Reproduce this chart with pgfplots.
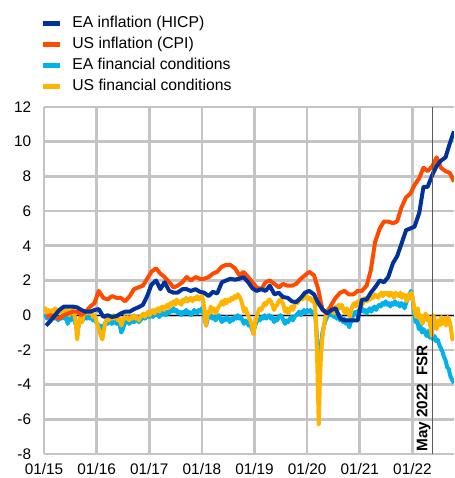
\documentclass[border=0pt]{standalone}
\usepackage{fontspec}
\setmainfont{Liberation Sans}
\usepackage{pgfplots}
\pgfplotsset{compat=1.18}
\definecolor{ecbdark}{HTML}{003299}
\definecolor{ecborange}{HTML}{FF4B00}
\definecolor{ecblight}{HTML}{00B1EA}
\definecolor{ecbyellow}{HTML}{FFB400}
\definecolor{gridgray}{HTML}{C4C4C4}
\definecolor{fsrline}{HTML}{595959}
\begin{document}
\fontsize{11.5}{13.8}\selectfont
\begin{tikzpicture}
\useasboundingbox (-33pt,-18pt) rectangle (307.5pt,340.5pt);
\begin{axis}[
  at={(0pt,0pt)}, anchor=south west,
  scale only axis, width=307.5pt, height=260.25pt,
  xmin=2015, xmax=2022.79, ymin=-8, ymax=12,
  xtick={2015,2016,2017,2018,2019,2020,2021,2022},
  xticklabels={01/15,01/16,01/17,01/18,01/19,01/20,01/21,01/22},
  ytick={-8,-6,-4,-2,0,2,4,6,8,10,12},
  major tick length=0pt,
  xmajorgrids=true, ymajorgrids=true,
  major grid style={draw=gridgray, line width=2pt},
  axis x line*=bottom, axis y line*=left,
  axis line style={draw=gridgray, line width=2pt, -},
  tick label style={font=\fontsize{11.5}{13.8}\selectfont, inner sep=0pt, /pgf/number format/assume math mode=true},
  xticklabel shift=6.5pt, yticklabel shift=9.5pt,
  legend image code/.code={\draw[#1, line width=3.5pt] (0pt,0pt) -- (12.5pt,0pt);},
  legend style={at={(axis description cs:0,1)}, anchor=west, xshift=-2.25pt, yshift=38.9pt,
    draw=none, fill=none, inner sep=0pt, outer sep=0pt, row sep=4.8pt, column sep=7.5pt,
    nodes={inner sep=0pt, text height=8.5pt, text depth=2.5pt},
    font=\fontsize{11.8}{14}\selectfont},
  legend cell align=left,
  line join=round,
]
\addlegendimage{ecbdark}\addlegendentry{EA inflation (HICP)}
\addlegendimage{ecborange}\addlegendentry{US inflation (CPI)}
\addlegendimage{ecblight}\addlegendentry{EA financial conditions}
\addlegendimage{ecbyellow}\addlegendentry{US financial conditions}

\draw[black, line width=0.8pt] (axis cs:2015,0) -- (axis cs:2022.79,0);

% EA financial conditions
\addplot[ecblight, line width=3pt, forget plot] coordinates {
(2015.00,-0.1)(2015.03,0.0)(2015.06,-0.2)(2015.09,-0.1)(2015.12,-0.3)(2015.15,-0.1)(2015.18,0.0)(2015.21,-0.2)(2015.24,-0.1)(2015.27,-0.3)
(2015.30,-0.1)(2015.33,-0.2)(2015.36,0.0)(2015.39,-0.2)(2015.42,-0.1)(2015.45,-0.5)(2015.48,-0.2)(2015.51,-0.3)(2015.54,-0.1)(2015.57,-0.2)
(2015.60,-0.5)(2015.63,-0.9)(2015.66,-0.6)(2015.69,-0.3)(2015.72,-0.4)(2015.75,-0.2)(2015.78,-0.1)(2015.81,-0.2)(2015.84,0.0)(2015.87,-0.2)
(2015.90,-0.1)(2015.93,-0.3)(2015.96,-0.2)(2015.99,-0.4)(2016.02,-0.5)(2016.05,-0.7)(2016.08,-0.6)(2016.11,-0.8)(2016.14,-0.6)(2016.17,-0.4)
(2016.20,-0.5)(2016.23,-0.4)(2016.26,-0.3)(2016.29,-0.5)(2016.32,-0.4)(2016.35,-0.3)(2016.38,-0.5)(2016.41,-0.4)(2016.44,-0.6)(2016.47,-1.0)
(2016.50,-0.8)(2016.53,-0.5)(2016.56,-0.4)(2016.59,-0.3)(2016.62,-0.5)(2016.65,-0.4)(2016.68,-0.3)(2016.71,-0.4)(2016.74,-0.3)(2016.77,-0.2)
(2016.80,-0.4)(2016.83,-0.3)(2016.86,-0.2)(2016.89,-0.1)(2016.92,-0.2)(2016.95,-0.1)(2016.98,0.0)(2017.01,-0.1)(2017.04,0.0)(2017.07,-0.1)
(2017.10,0.1)(2017.13,0.0)(2017.16,0.1)(2017.19,-0.1)(2017.22,0.0)(2017.25,0.2)(2017.28,0.1)(2017.31,0.0)(2017.34,0.2)(2017.37,0.1)
(2017.40,0.3)(2017.43,0.2)(2017.46,0.4)(2017.49,0.2)(2017.52,0.3)(2017.55,0.1)(2017.58,0.2)(2017.61,0.0)(2017.64,0.2)(2017.67,0.1)
(2017.70,0.3)(2017.73,0.1)(2017.76,0.2)(2017.79,0.0)(2017.82,0.1)(2017.85,0.3)(2017.88,0.2)(2017.91,0.1)(2017.94,0.3)(2017.97,0.2)
(2018.00,0.4)(2018.03,0.2)(2018.06,-0.3)(2018.08,-0.6)(2018.11,-0.2)(2018.14,-0.1)(2018.17,0.0)(2018.20,-0.2)(2018.23,-0.1)(2018.26,-0.3)
(2018.29,-0.1)(2018.32,0.0)(2018.35,-0.2)(2018.38,-0.4)(2018.41,-0.2)(2018.44,-0.3)(2018.47,-0.1)(2018.50,-0.2)(2018.53,-0.4)(2018.56,-0.2)
(2018.59,-0.3)(2018.62,-0.1)(2018.65,-0.2)(2018.68,0.0)(2018.71,-0.2)(2018.74,-0.1)(2018.77,-0.3)(2018.80,-0.5)(2018.83,-0.3)(2018.86,-0.4)
(2018.89,-0.6)(2018.92,-0.5)(2018.95,-0.8)(2018.98,-1.0)(2019.01,-0.6)(2019.04,-0.4)(2019.07,-0.2)(2019.10,-0.3)(2019.13,-0.1)(2019.16,-0.2)
(2019.19,0.0)(2019.22,-0.2)(2019.25,-0.1)(2019.28,0.0)(2019.31,-0.2)(2019.34,-0.1)(2019.37,-0.4)(2019.40,-0.2)(2019.43,-0.3)(2019.46,-0.1)
(2019.49,0.0)(2019.52,-0.1)(2019.55,-0.3)(2019.58,-0.5)(2019.61,-0.3)(2019.64,-0.4)(2019.67,-0.2)(2019.70,-0.1)(2019.73,-0.3)(2019.76,-0.1)
(2019.79,0.0)(2019.82,0.1)(2019.85,0.2)(2019.88,0.0)(2019.91,0.2)(2019.94,0.3)(2019.97,0.1)(2020.00,0.3)(2020.03,0.2)(2020.06,0.3)
(2020.09,0.1)(2020.12,0.2)(2020.15,0.1)(2020.17,-0.6)(2020.19,-1.5)(2020.21,-2.6)(2020.23,-3.2)(2020.25,-2.4)(2020.27,-1.6)(2020.29,-1.0)
(2020.32,-0.6)(2020.35,-0.3)(2020.38,-0.1)(2020.41,0.1)(2020.44,0.0)(2020.47,0.2)(2020.50,-0.1)(2020.53,0.1)(2020.56,-0.2)(2020.59,0.0)
(2020.62,-0.3)(2020.65,-0.1)(2020.68,-0.4)(2020.71,-0.2)(2020.74,-0.5)(2020.77,-0.3)(2020.80,-0.7)(2020.83,-0.4)(2020.86,-0.1)(2020.89,0.1)
(2020.92,0.2)(2020.95,0.0)(2020.98,0.3)(2021.01,0.2)(2021.04,0.4)(2021.07,0.2)(2021.10,0.3)(2021.13,0.1)(2021.16,0.3)(2021.19,0.4)
(2021.22,0.2)(2021.25,0.4)(2021.28,0.5)(2021.31,0.3)(2021.34,0.5)(2021.37,0.6)(2021.40,0.5)(2021.43,0.7)(2021.46,0.6)(2021.49,0.8)
(2021.52,0.6)(2021.55,0.7)(2021.58,0.5)(2021.61,0.7)(2021.64,0.6)(2021.67,0.8)(2021.70,0.6)(2021.73,0.7)(2021.76,0.5)(2021.79,0.7)
(2021.82,0.6)(2021.85,0.4)(2021.88,0.7)(2021.91,0.9)(2021.94,1.1)(2021.97,1.4)(2022.00,1.0)(2022.03,0.2)(2022.06,-0.4)(2022.09,-0.2)
(2022.12,-0.8)(2022.15,-0.6)(2022.18,-1.0)(2022.21,-0.8)(2022.24,-1.0)(2022.27,-1.2)(2022.30,-0.9)(2022.33,-1.3)(2022.36,-1.1)(2022.39,-1.4)
(2022.42,-1.2)(2022.45,-1.5)(2022.48,-1.4)(2022.51,-1.7)(2022.54,-1.9)(2022.57,-2.1)(2022.60,-2.4)(2022.63,-2.6)(2022.66,-3.0)(2022.69,-3.1)
(2022.72,-3.5)(2022.75,-3.7)(2022.79,-3.9)
};

% US financial conditions
\addplot[ecbyellow, line width=3pt, forget plot] coordinates {
(2015.00,0.2)(2015.03,0.4)(2015.06,0.1)(2015.09,0.3)(2015.12,0.0)(2015.15,0.3)(2015.18,0.1)(2015.21,0.4)(2015.24,0.2)(2015.27,0.3)
(2015.30,0.1)(2015.33,0.4)(2015.36,0.2)(2015.39,0.3)(2015.42,0.1)(2015.45,0.3)(2015.48,0.0)(2015.51,0.2)(2015.54,0.3)(2015.57,0.1)
(2015.60,-0.3)(2015.63,-1.4)(2015.66,-0.6)(2015.69,-0.1)(2015.72,-0.4)(2015.75,0.0)(2015.78,0.2)(2015.81,0.1)(2015.84,0.3)(2015.87,0.1)
(2015.90,0.2)(2015.93,-0.1)(2015.96,0.0)(2015.99,-0.3)(2016.02,-0.6)(2016.05,-0.9)(2016.08,-1.2)(2016.11,-1.4)(2016.14,-0.8)(2016.17,-0.4)
(2016.20,-0.2)(2016.23,-0.3)(2016.26,-0.1)(2016.29,-0.2)(2016.32,0.0)(2016.35,-0.2)(2016.38,-0.1)(2016.41,-0.3)(2016.44,-0.2)(2016.47,-0.6)
(2016.50,-0.3)(2016.53,-0.1)(2016.56,-0.2)(2016.59,-0.1)(2016.62,-0.3)(2016.65,-0.1)(2016.68,-0.2)(2016.71,0.0)(2016.74,-0.2)(2016.77,-0.1)
(2016.80,-0.3)(2016.83,-0.1)(2016.86,0.0)(2016.89,0.1)(2016.92,-0.1)(2016.95,0.1)(2016.98,0.2)(2017.01,0.0)(2017.04,0.2)(2017.07,0.3)
(2017.10,0.1)(2017.13,0.3)(2017.16,0.4)(2017.19,0.2)(2017.22,0.4)(2017.25,0.5)(2017.28,0.3)(2017.31,0.5)(2017.34,0.6)(2017.37,0.4)
(2017.40,0.7)(2017.43,0.6)(2017.46,0.8)(2017.49,0.6)(2017.52,0.9)(2017.55,0.7)(2017.58,0.8)(2017.61,0.6)(2017.64,0.9)(2017.67,0.8)
(2017.70,1.0)(2017.73,0.8)(2017.76,0.9)(2017.79,1.0)(2017.82,0.8)(2017.85,1.0)(2017.88,0.9)(2017.91,1.1)(2017.94,0.9)(2017.97,1.0)
(2018.00,1.1)(2018.03,0.8)(2018.06,-0.2)(2018.08,-0.6)(2018.11,0.2)(2018.14,0.1)(2018.17,0.5)(2018.20,0.2)(2018.23,0.4)(2018.26,0.1)
(2018.29,0.3)(2018.32,0.5)(2018.35,0.6)(2018.38,0.8)(2018.41,0.6)(2018.44,0.9)(2018.47,0.7)(2018.50,0.9)(2018.53,0.8)(2018.56,1.0)
(2018.59,0.9)(2018.62,1.1)(2018.65,1.0)(2018.68,1.2)(2018.71,1.1)(2018.74,0.9)(2018.77,0.6)(2018.80,0.2)(2018.83,0.4)(2018.86,0.1)
(2018.89,-0.1)(2018.92,-0.3)(2018.95,-0.6)(2018.98,-1.1)(2019.01,-0.5)(2019.04,-0.1)(2019.07,0.2)(2019.10,0.4)(2019.13,0.3)(2019.16,0.5)
(2019.19,0.7)(2019.22,0.6)(2019.25,0.8)(2019.28,0.9)(2019.31,0.8)(2019.34,0.6)(2019.37,0.3)(2019.40,0.5)(2019.43,0.6)(2019.46,0.8)
(2019.49,0.9)(2019.52,0.8)(2019.55,0.6)(2019.58,0.2)(2019.61,0.4)(2019.64,0.1)(2019.67,0.3)(2019.70,0.5)(2019.73,0.3)(2019.76,0.6)
(2019.79,0.8)(2019.82,0.7)(2019.85,0.9)(2019.88,1.0)(2019.91,0.9)(2019.94,1.1)(2019.97,1.0)(2020.00,1.1)(2020.03,0.9)(2020.06,1.0)
(2020.09,0.8)(2020.12,0.9)(2020.15,0.6)(2020.17,-0.5)(2020.19,-2.5)(2020.21,-5.0)(2020.22,-6.3)(2020.24,-4.0)(2020.26,-2.5)(2020.28,-1.6)
(2020.30,-1.0)(2020.33,-0.4)(2020.36,0.1)(2020.39,0.3)(2020.42,0.4)(2020.45,0.2)(2020.48,0.4)(2020.51,0.1)(2020.54,0.5)(2020.57,0.3)
(2020.60,0.6)(2020.63,0.4)(2020.66,0.6)(2020.69,0.3)(2020.72,0.1)(2020.75,0.4)(2020.78,0.2)(2020.81,-0.1)(2020.84,0.3)(2020.87,0.6)
(2020.90,0.7)(2020.93,0.5)(2020.96,0.8)(2020.99,0.7)(2021.02,0.9)(2021.05,0.6)(2021.08,0.9)(2021.11,1.0)(2021.14,0.8)(2021.17,1.0)
(2021.20,0.9)(2021.23,1.1)(2021.26,1.0)(2021.29,1.2)(2021.32,1.1)(2021.35,1.0)(2021.38,1.2)(2021.41,1.3)(2021.44,1.1)(2021.47,1.3)
(2021.50,1.2)(2021.53,1.3)(2021.56,1.1)(2021.59,1.3)(2021.62,1.2)(2021.65,1.0)(2021.68,1.3)(2021.71,1.2)(2021.74,1.1)(2021.77,1.3)
(2021.80,1.0)(2021.83,1.2)(2021.86,1.1)(2021.89,0.8)(2021.92,1.2)(2021.95,1.0)(2021.98,1.3)(2022.01,0.9)(2022.04,0.3)(2022.07,-0.1)
(2022.10,0.4)(2022.13,-0.2)(2022.16,0.0)(2022.19,-0.5)(2022.22,-0.2)(2022.25,0.1)(2022.28,-0.3)(2022.31,-0.1)(2022.34,-0.6)(2022.37,-1.2)
(2022.40,0.0)(2022.43,-0.4)(2022.46,-0.8)(2022.49,-0.3)(2022.52,-0.6)(2022.55,-0.1)(2022.58,-0.5)(2022.61,-0.2)(2022.64,-0.6)(2022.67,-0.1)
(2022.70,-0.3)(2022.73,-0.7)(2022.76,-1.4)(2022.79,-1.3)
};

% US inflation (CPI), monthly, mid-month
\addplot[ecborange, line width=3pt, forget plot] coordinates {
(2015.04,-0.1)(2015.13,0.0)(2015.21,-0.1)(2015.29,-0.2)(2015.38,0.0)(2015.46,0.1)(2015.54,0.2)(2015.63,0.2)(2015.71,0.0)(2015.79,0.2)(2015.88,0.5)(2015.96,0.7)
(2016.04,1.4)(2016.13,1.0)(2016.21,0.9)(2016.29,1.1)(2016.38,1.0)(2016.46,1.0)(2016.54,0.8)(2016.63,1.1)(2016.71,1.5)(2016.79,1.6)(2016.88,1.7)(2016.96,2.1)
(2017.04,2.5)(2017.13,2.7)(2017.21,2.4)(2017.29,2.2)(2017.38,1.9)(2017.46,1.6)(2017.54,1.7)(2017.63,1.9)(2017.71,2.2)(2017.79,2.0)(2017.88,2.2)(2017.96,2.1)
(2018.04,2.1)(2018.13,2.2)(2018.21,2.4)(2018.29,2.5)(2018.38,2.8)(2018.46,2.9)(2018.54,2.9)(2018.63,2.7)(2018.71,2.3)(2018.79,2.5)(2018.88,2.2)(2018.96,1.9)
(2019.04,1.6)(2019.13,1.5)(2019.21,1.9)(2019.29,2.0)(2019.38,1.8)(2019.46,1.6)(2019.54,1.8)(2019.63,1.7)(2019.71,1.7)(2019.79,1.8)(2019.88,2.1)(2019.96,2.3)
(2020.04,2.5)(2020.13,2.3)(2020.21,1.5)(2020.29,0.3)(2020.38,0.1)(2020.46,0.6)(2020.54,1.0)(2020.63,1.3)(2020.71,1.4)(2020.79,1.2)(2020.88,1.2)(2020.96,1.4)
(2021.04,1.4)(2021.13,1.7)(2021.21,2.6)(2021.29,4.2)(2021.38,5.0)(2021.46,5.4)(2021.54,5.4)(2021.63,5.3)(2021.71,5.4)(2021.79,6.2)(2021.88,6.8)(2021.96,7.0)
(2022.04,7.5)(2022.13,7.9)(2022.21,8.5)(2022.29,8.3)(2022.38,8.6)(2022.46,9.1)(2022.54,8.5)(2022.63,8.3)(2022.71,8.2)(2022.79,7.7)
};

% EA inflation (HICP), monthly, mid-month
\addplot[ecbdark, line width=3pt, forget plot] coordinates {
(2015.04,-0.6)(2015.13,-0.3)(2015.21,0.0)(2015.29,0.3)(2015.38,0.5)(2015.46,0.5)(2015.54,0.5)(2015.63,0.45)(2015.71,0.3)(2015.79,0.2)(2015.88,0.2)(2015.96,0.3)
(2016.04,0.35)(2016.13,-0.1)(2016.21,0.0)(2016.29,-0.1)(2016.38,-0.05)(2016.46,0.1)(2016.54,0.2)(2016.63,0.2)(2016.71,0.35)(2016.79,0.45)(2016.88,0.6)(2016.96,1.1)
(2017.04,1.75)(2017.13,2.0)(2017.21,1.5)(2017.29,1.9)(2017.38,1.4)(2017.46,1.3)(2017.54,1.3)(2017.63,1.5)(2017.71,1.5)(2017.79,1.4)(2017.88,1.5)(2017.96,1.35)
(2018.04,1.3)(2018.13,1.1)(2018.21,1.35)(2018.29,1.25)(2018.38,1.9)(2018.46,2.0)(2018.54,2.1)(2018.63,2.05)(2018.71,2.1)(2018.79,2.2)(2018.88,1.9)(2018.96,1.55)
(2019.04,1.4)(2019.13,1.5)(2019.21,1.4)(2019.29,1.7)(2019.38,1.2)(2019.46,1.3)(2019.54,1.05)(2019.63,1.0)(2019.71,0.8)(2019.79,0.75)(2019.88,1.0)(2019.96,1.3)
(2020.04,1.4)(2020.13,1.2)(2020.21,0.7)(2020.29,0.35)(2020.38,0.1)(2020.46,0.3)(2020.54,0.4)(2020.63,-0.2)(2020.71,-0.3)(2020.79,-0.3)(2020.88,-0.3)(2020.96,-0.3)
(2021.04,0.9)(2021.13,0.9)(2021.21,1.3)(2021.29,1.6)(2021.38,2.0)(2021.46,1.9)(2021.54,2.2)(2021.63,3.0)(2021.71,3.4)(2021.79,4.1)(2021.88,4.9)(2021.96,5.0)
(2022.04,5.1)(2022.13,5.9)(2022.21,7.4)(2022.29,7.4)(2022.38,8.1)(2022.46,8.6)(2022.54,8.9)(2022.63,9.1)(2022.71,9.9)(2022.79,10.6)
};

\draw[fsrline, line width=0.8pt] (axis cs:2022.39,-8) -- (axis cs:2022.39,12);
\node[rotate=90, anchor=south west, inner sep=1.5pt, font=\bfseries\fontsize{11.5}{13.8}\selectfont] at (axis cs:2022.39,-8) {May 2022\enspace FSR};
\end{axis}
\end{tikzpicture}
\end{document}
